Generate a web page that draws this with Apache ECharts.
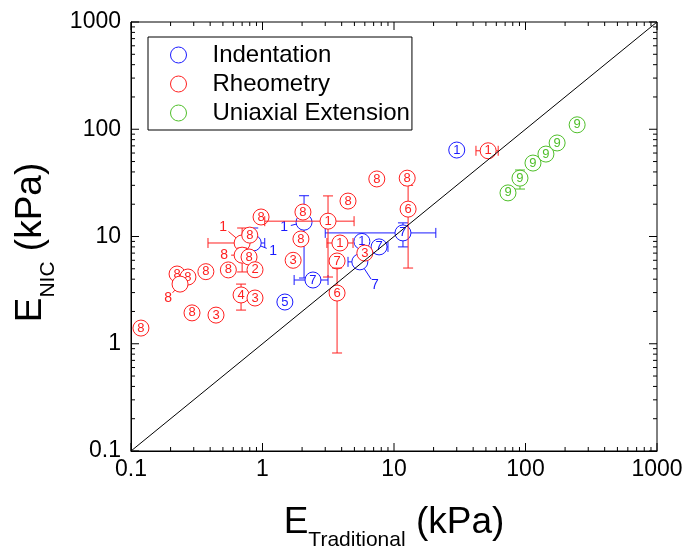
<!DOCTYPE html>
<html><head><meta charset="utf-8">
<script src="https://cdn.jsdelivr.net/npm/echarts@6/dist/echarts.min.js"></script>
<style>html,body{margin:0;padding:0;background:#fff}#c{width:687px;height:548px}</style>
</head><body><div id="c"></div>
<script>
// ---------- data ----------
const tickLabels = [0.1, 1, 10, 100, 1000];
const diagonal = [[0.1, 0.1], [1000, 1000]];

// Indentation
const indentX   = [30, 2.07, 5.7, 7.7, 11.7, 5.5, 2.42, 1.48, 0.85];
const indentY   = [64, 13.6, 9.0, 8.0, 10.8, 5.8, 3.93, 2.45, 8.7];
const indentTag = ['1', '1', '1', '7', '7', '7', '7', '5', '1'];
const indentXLo = [null, null, null, null, 3.0, 4.47, 1.74, null, null];
const indentXHi = [null, null, null, 9.0, 20.8, null, 3.15, null, 1.04];
const indentYLo = [null, 4.1, null, null, 8.0, null, null, null, null];
const indentYHi = [null, 24, null, null, 13.4, null, null, null, 12];

// Rheometry
const rheoX   = [52, 0.975, 0.70, 0.80, 0.70, 0.79, 0.55, 0.877, 0.371, 0.224, 0.271, 0.236, 0.687, 0.877, 0.291, 0.443, 0.119, 1.71, 2.03, 4.47, 3.15, 1.96, 3.88, 3.69, 3.69, 6.0, 12.8, 12.6, 7.4];
const rheoY   = [63, 15.2, 8.7, 10.3, 6.7, 6.44, 4.88, 4.9, 4.7, 4.47, 4.19, 3.6, 2.85, 2.67, 1.94, 1.85, 1.40, 6.0, 16.9, 21.4, 13.9, 9.48, 8.7, 5.91, 2.97, 7.0, 18.0, 35, 34.4];
const rheoTag = ['1', '8', '1', '8', '8', '8', '8', '2', '8', '8', '8', '8', '4', '3', '8', '3', '8', '3', '8', '8', '1', '8', '1', '7', '6', '3', '6', '8', '8'];
const rheoXLo = [42, null, 0.385, null, null, null, null, null, null, null, null, null, null, null, null, null, null, null, null, null, 1.04, null, 3.09, null, null, null, null, null, null];
const rheoXHi = [62, null, null, null, null, null, null, null, null, null, null, null, null, null, null, null, null, null, null, null, 4.97, null, 4.88, null, null, null, null, null, null];
const rheoYLo = [null, null, null, null, 4.67, null, null, null, null, null, null, null, 2.06, null, null, null, null, null, null, null, 4.19, null, null, null, 0.82, null, 5.08, null, null];
const rheoYHi = [null, null, 12, null, 7.8, null, null, null, null, null, null, null, 3.6, null, null, null, null, null, null, null, 23.9, null, null, null, 5.08, null, 30, null, null];

// Uniaxial Extension
const uniX   = [73.6, 90.8, 114, 143, 174, 247];
const uniY   = [25.5, 35, 48.4, 58.7, 74.5, 110];
const uniTag = ['9', '9', '9', '9', '9', '9'];
const uniXLo = [null, null, null, null, null, null];
const uniXHi = [null, null, null, null, null, null];
const uniYLo = [null, 27.7, null, null, null, null];
const uniYHi = [null, 41.7, null, null, null, null];

// ---------- styling (label call-outs: pixel offsets of outside labels) ----------
const FONT = 'Liberation Sans, Arial, Helvetica, sans-serif';
const BLUE = '#1a1aff', RED = '#ff2020', GREEN = '#4fbf2a';
const indentCallouts = {1: [-20, 5], 5: [15, 23], 8: [20, 8]};
const rheoCallouts = {2: [-19, -16], 4: [-18, 0], 11: [-12, 14]};
const uniCallouts = {};
const R = 8, CAP = 5;

function pointSeries(name, color, X, Y, tag, xlo, xhi, ylo, yhi, callouts) {
  return {
    type: 'custom', name: name, coordinateSystem: 'cartesian2d',
    itemStyle: {color: color},
    data: X.map((x, i) => [x, Y[i]]),
    renderItem: function (params, api) {
      const i = params.dataIndex;
      const c = api.coord([X[i], Y[i]]);
      const kids = [];
      const ln = (x1, y1, x2, y2) => ({type: 'line', shape: {x1, y1, x2, y2}, style: {stroke: color, lineWidth: 1}});
      if (xlo[i] != null) { const p = api.coord([xlo[i], Y[i]]); kids.push(ln(p[0], c[1], c[0], c[1]), ln(p[0], c[1] - CAP, p[0], c[1] + CAP)); }
      if (xhi[i] != null) { const p = api.coord([xhi[i], Y[i]]); kids.push(ln(c[0], c[1], p[0], c[1]), ln(p[0], c[1] - CAP, p[0], c[1] + CAP)); }
      if (ylo[i] != null) { const p = api.coord([X[i], ylo[i]]); kids.push(ln(c[0], c[1], c[0], p[1]), ln(c[0] - CAP, p[1], c[0] + CAP, p[1])); }
      if (yhi[i] != null) { const p = api.coord([X[i], yhi[i]]); kids.push(ln(c[0], p[1], c[0], c[1]), ln(c[0] - CAP, p[1], c[0] + CAP, p[1])); }
      kids.push({type: 'circle', shape: {cx: c[0], cy: c[1], r: R}, style: {fill: '#fff', stroke: color, lineWidth: 1}});
      const co = callouts[i];
      let tx = c[0], ty = c[1], fs = 13;
      if (co) {
        tx = c[0] + co[0]; ty = c[1] + co[1]; fs = 14;
        const d = Math.hypot(co[0], co[1]);
        const ux = co[0] / d, uy = co[1] / d;
        kids.push(ln(c[0] + ux * R, c[1] + uy * R, tx - ux * 7, ty - uy * 7));
      }
      kids.push({type: 'text', x: tx, y: ty, style: {text: tag[i], textAlign: 'center', textVerticalAlign: 'middle', align: 'center', verticalAlign: 'middle', fill: color, font: fs + 'px ' + FONT}});
      return {type: 'group', children: kids};
    }
  };
}

const tickSeries = {
  type: 'custom', name: 'ticks', coordinateSystem: 'cartesian2d', silent: true,
  data: [[1, 1]],
  renderItem: function (params, api) {
    const kids = [];
    const ln = (x1, y1, x2, y2) => ({type: 'line', shape: {x1, y1, x2, y2}, style: {stroke: '#000', lineWidth: 1}});
    const lo = tickLabels[0], hi = tickLabels[tickLabels.length - 1];
    for (let d = 0; d < tickLabels.length; d++) {
      for (let m = 1; m <= 9; m++) {
        const v = tickLabels[d] * m;
        if (v > hi * 1.0001) break;
        const L = m === 1 ? 8 : 4;
        const b = api.coord([v, lo]), t = api.coord([v, hi]);
        kids.push(ln(b[0], b[1], b[0], b[1] - L), ln(t[0], t[1], t[0], t[1] + L));
        const l = api.coord([lo, v]), r = api.coord([hi, v]);
        kids.push(ln(l[0], l[1], l[0] + L, l[1]), ln(r[0], r[1], r[0] - L, r[1]));
      }
    }
    return {type: 'group', children: kids};
  }
};

function fmt(v) {
  const t = tickLabels.find(t => Math.abs(Math.log10(t) - Math.log10(v)) < 1e-6);
  return t == null ? '' : String(t);
}

const richName = {
  m: {fontSize: 37, lineHeight: 37, verticalAlign: 'top', fontFamily: FONT, color: '#000'},
  s: {fontSize: 21, lineHeight: 21, verticalAlign: 'top', padding: [26, 0, 0, 0], fontFamily: FONT, color: '#000'}
};

const chart = echarts.init(document.getElementById('c'), null, {renderer: 'canvas'});
chart.setOption({
  animation: false,
  backgroundColor: '#fff',
  grid: {left: 131, right: 30, top: 22, bottom: 97, outerBoundsMode: 'none', containLabel: false, show: true, borderColor: '#000', borderWidth: 1, backgroundColor: 'transparent'},
  xAxis: {
    type: 'log', logBase: 10, min: tickLabels[0], max: tickLabels[tickLabels.length - 1],
    axisLine: {show: true, lineStyle: {color: '#000', width: 1}}, axisTick: {show: false}, splitLine: {show: false}, minorTick: {show: false},
    axisLabel: {fontSize: 23, color: '#000', fontFamily: FONT, margin: 7, formatter: fmt},
    name: '{m|E}{s|Traditional}{m| (kPa)}', nameLocation: 'middle', nameGap: 53,
    nameTextStyle: {rich: richName}
  },
  yAxis: {
    type: 'log', logBase: 10, min: tickLabels[0], max: tickLabels[tickLabels.length - 1],
    axisLine: {show: true, lineStyle: {color: '#000', width: 1}}, axisTick: {show: false}, splitLine: {show: false}, minorTick: {show: false},
    axisLabel: {fontSize: 23, color: '#000', fontFamily: FONT, margin: 10, formatter: fmt},
    name: '{m|E}{s|NIC}{m| (kPa)}', nameLocation: 'middle', nameGap: 76, nameRotate: 90,
    nameTextStyle: {rich: richName, padding: [0, 12, 0, 0]}
  },
  legend: {
    orient: 'vertical', left: 148, top: 37, padding: [6, 2, 5, 22],
    itemWidth: 16, itemHeight: 16, itemGap: 5,
    borderColor: '#000', borderWidth: 1, backgroundColor: '#fff',
    textStyle: {fontSize: 24, lineHeight: 23, color: '#000', fontFamily: FONT, padding: [0, 0, 0, 21]},
    data: [
      {name: 'Indentation', icon: 'circle', itemStyle: {color: 'rgba(0,0,0,0)', borderColor: BLUE, borderWidth: 1}},
      {name: 'Rheometry', icon: 'circle', itemStyle: {color: 'rgba(0,0,0,0)', borderColor: RED, borderWidth: 1}},
      {name: 'Uniaxial Extension', icon: 'circle', itemStyle: {color: 'rgba(0,0,0,0)', borderColor: GREEN, borderWidth: 1}}
    ]
  },
  series: [
    {type: 'line', name: 'diag', data: diagonal, symbol: 'none', silent: true, lineStyle: {color: '#000', width: 1}},
    tickSeries,
    pointSeries('Indentation', BLUE, indentX, indentY, indentTag, indentXLo, indentXHi, indentYLo, indentYHi, indentCallouts),
    pointSeries('Rheometry', RED, rheoX, rheoY, rheoTag, rheoXLo, rheoXHi, rheoYLo, rheoYHi, rheoCallouts),
    pointSeries('Uniaxial Extension', GREEN, uniX, uniY, uniTag, uniXLo, uniXHi, uniYLo, uniYHi, uniCallouts)
  ]
});
</script>
</body></html>
